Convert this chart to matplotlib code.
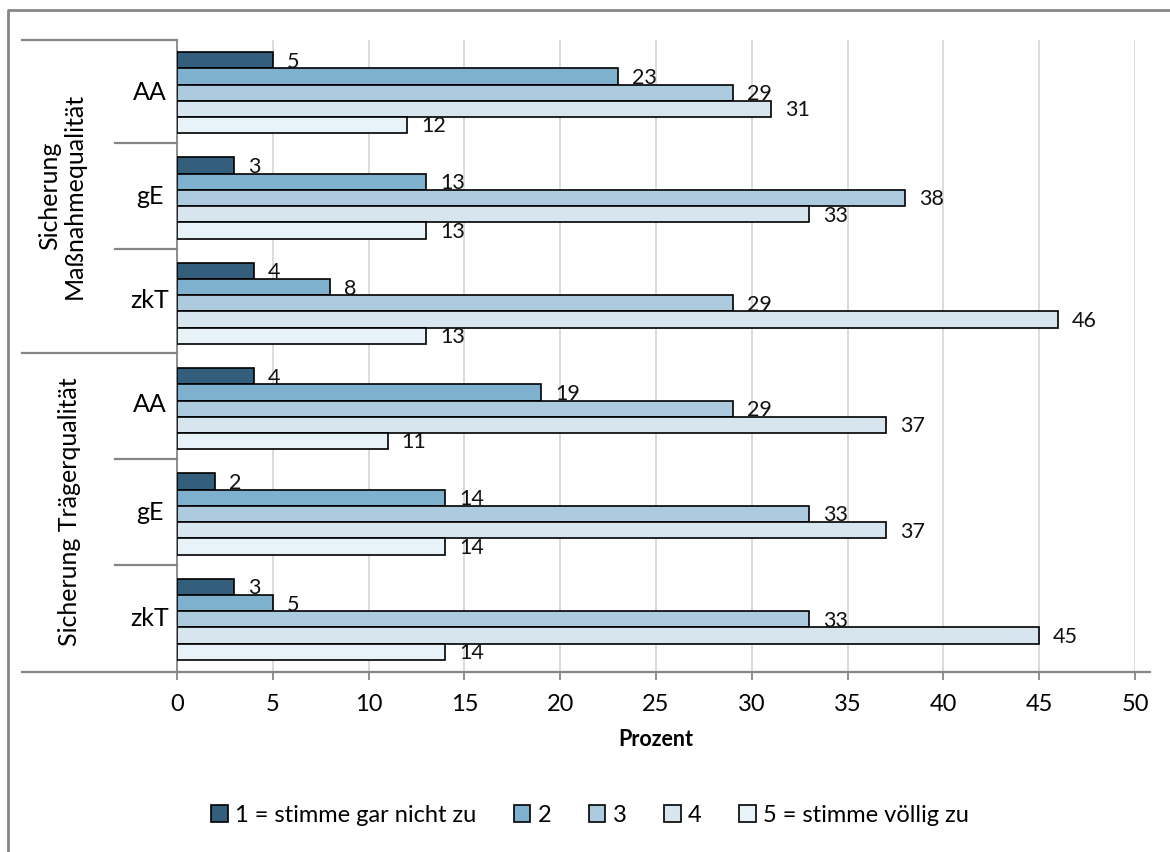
import matplotlib.pyplot as plt
import numpy as np
from matplotlib.patches import Patch
from matplotlib.lines import Line2D

plt.rcParams['font.family'] = ['Lato', 'DejaVu Sans']

# data (top to bottom)
groups = ['Sicherung\nMaßnahmequalität', 'Sicherung Trägerqualität']
subcats = ['AA', 'gE', 'zkT', 'AA', 'gE', 'zkT']
levels = ['1 = stimme gar nicht zu', '2', '3', '4', '5 = stimme völlig zu']
lvl1 = [5, 3, 4, 4, 2, 3]
lvl2 = [23, 13, 8, 19, 14, 5]
lvl3 = [29, 38, 29, 29, 33, 33]
lvl4 = [31, 33, 46, 37, 37, 45]
lvl5 = [12, 13, 13, 11, 14, 14]
series = [lvl1, lvl2, lvl3, lvl4, lvl5]
colors = ['#335f7d', '#7fb0cd', '#adcbde', '#d7e5ef', '#e8f2f9']

W, H = 1170, 852
fig = plt.figure(figsize=(W / 100, H / 100), dpi=100)
ax = fig.add_axes([177 / W, 1 - 672 / H, (1135 - 177) / W, (672 - 40) / H])

bh = 0.154
off = 0.115
y0 = np.arange(len(subcats))
for k, vals in enumerate(series):
    ys = y0 + off + bh * k + bh / 2
    ax.barh(ys, vals, height=bh, color=colors[k], edgecolor='black', linewidth=1.2, zorder=3)
    for y, v in zip(ys, vals):
        ax.annotate(str(v), (v, y), xytext=(10, -1), textcoords='offset points',
                    va='center', ha='left', fontsize=15.5, color='#111111', zorder=4)

ax.set_ylim(len(subcats), 0)
ax.set_xlim(0, 50)
ax.set_xticks(range(0, 51, 5))
ax.set_yticks([])
ax.grid(axis='x', color='#d9d9d9', linewidth=1.3, zorder=0)
for s in ['top', 'right']:
    ax.spines[s].set_visible(False)
for s in ['left', 'bottom']:
    ax.spines[s].set_color('#868686')
    ax.spines[s].set_linewidth(1.3)
ax.tick_params(axis='x', length=6, color='#868686', width=1.3, labelsize=17, pad=10)
ax.set_xlabel('Prozent', fontsize=15.5, fontweight='bold', labelpad=10)

# category axis lines and labels
gray = '#868686'
def hline(ypix, x0pix, x1pix=177):
    fig.add_artist(Line2D([x0pix / W, x1pix / W], [1 - ypix / H, 1 - ypix / H],
                          color=gray, linewidth=1.6))

for yp in [40, 353]:
    hline(yp, 22)
hline(672, 22, 1150)
for yp in [143, 249, 459, 565]:
    hline(yp, 115)

sub_y = [92, 196, 301, 405, 512, 618]
for name, yp in zip(subcats, sub_y):
    fig.text(150 / W, 1 - yp / H, name, ha='center', va='center', fontsize=18)
fig.text(62 / W, 1 - 196 / H, groups[0], ha='center', va='center', rotation=90,
         fontsize=18, linespacing=1.1)
fig.text(70 / W, 1 - 512 / H, groups[1], ha='center', va='center', rotation=90, fontsize=18)

# outer border (left and top visible)
fig.add_artist(Line2D([8 / W, 8 / W, 1], [0, 1 - 10 / H, 1 - 10 / H], color=gray, linewidth=2))

handles = [Patch(facecolor=c, edgecolor='black', linewidth=1.2) for c in colors]
fig.legend(handles, levels, loc='center', bbox_to_anchor=(590 / W, 1 - 815 / H), ncol=5,
           frameon=False, fontsize=17, handlelength=0.7, handleheight=0.7,
           handletextpad=0.3, columnspacing=1.6)

fig.savefig('out.png', dpi=100)
